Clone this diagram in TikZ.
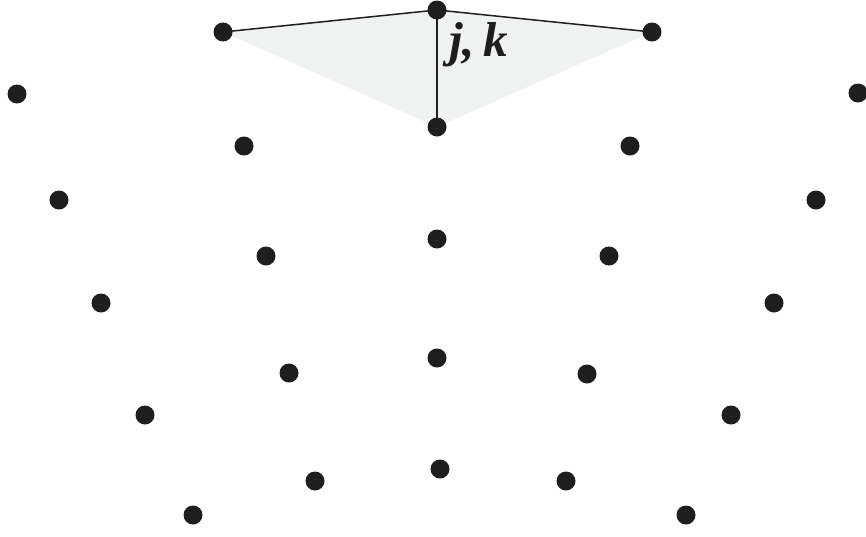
\documentclass[tikz,border=0pt]{standalone}
\usepackage{fontspec}
\setmainfont{Liberation Serif}
\definecolor{fillgrey}{HTML}{F0F2F2}
\definecolor{dotc}{HTML}{1E1E1E}
\begin{document}
\begin{tikzpicture}[x=1pt,y=-1pt,
  pt/.style={circle,fill=dotc,inner sep=0pt,minimum size=19pt},
  edge/.style={draw=dotc,line width=1.5pt}]
\useasboundingbox (0,0) rectangle (866,536);
\fill[fillgrey] (223,32) -- (437,10) -- (652,32) -- (437,127) -- cycle;
\node[pt] (a) at (223,32) {};
\node[pt] (b) at (437,10) {};
\node[pt] (c) at (652,32) {};
\node[pt] (d) at (437,127) {};
\draw[edge] (a.center) -- (b.center) -- (c.center);
\draw[edge] (b.center) -- (d.center);
\node[pt] (p1) at (17,94) {};
\node[pt] (p2) at (858,93) {};
\node[pt] (p3) at (244,146) {};
\node[pt] (p4) at (630,146) {};
\node[pt] (p5) at (59,200) {};
\node[pt] (p6) at (816,200) {};
\node[pt] (p7) at (437,239) {};
\node[pt] (p8) at (266,256) {};
\node[pt] (p9) at (609,256) {};
\node[pt] (p10) at (101,303) {};
\node[pt] (p11) at (774,303) {};
\node[pt] (p12) at (437,358) {};
\node[pt] (p13) at (289,373) {};
\node[pt] (p14) at (587,374) {};
\node[pt] (p15) at (145,415) {};
\node[pt] (p16) at (731,415) {};
\node[pt] (p17) at (440,469) {};
\node[pt] (p18) at (315,481) {};
\node[pt] (p19) at (566,481) {};
\node[pt] (p20) at (193,515) {};
\node[pt] (p21) at (686,515) {};
\node[inner sep=0pt,anchor=base west,text=dotc] (lbl) at (449,56) {\fontsize{49}{49}\selectfont\bfseries\itshape j,\,k};
\end{tikzpicture}
\end{document}
